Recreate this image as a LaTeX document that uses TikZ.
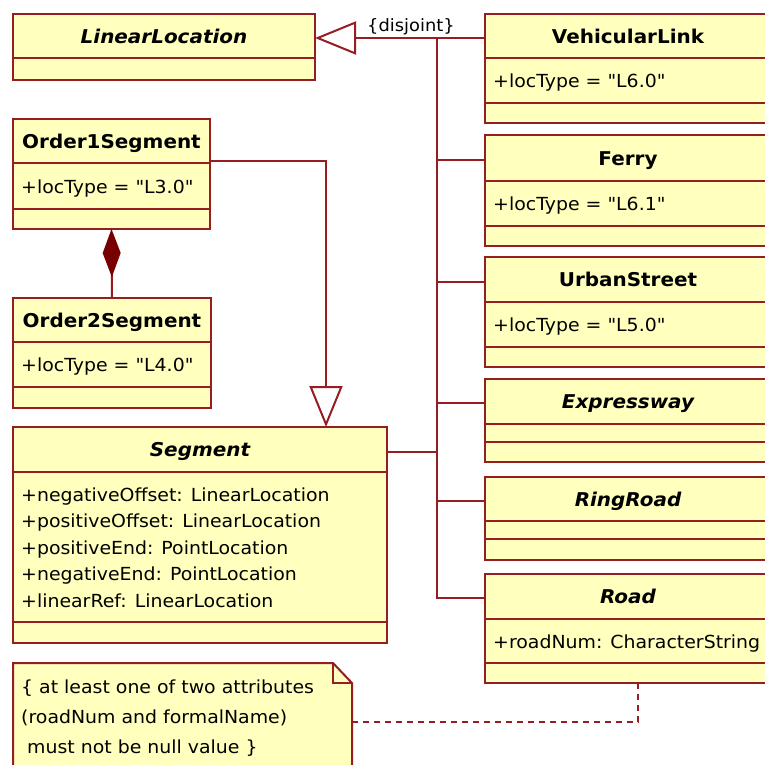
\documentclass[tikz,border=0pt]{standalone}
\usepackage{fontspec}
\setmainfont{DejaVu Sans}[FakeStretch=1.05, Ligatures=TeXOff]
\usetikzlibrary{arrows.meta}
\definecolor{umlline}{RGB}{150,30,35}
\definecolor{umlfill}{RGB}{255,255,190}
\definecolor{umldark}{RGB}{120,0,0}
\tikzset{
  cls/.style={draw=umlline, fill=umlfill, line width=2pt, inner sep=0pt, outer sep=0pt, rectangle},
  notebox/.style={draw=umlline, fill=umlfill, line width=2pt},
  divider/.style={draw=umlline, line width=2pt},
  conn/.style={draw=umlline, line width=2pt},
  gen/.style={conn, -{Triangle[open, length=41pt, width=33pt, fill=white]}},
  comp/.style={conn, -{Diamond[length=48pt, width=18pt, fill=umldark, color=umldark]}},
  noteline/.style={conn, dash pattern=on 6pt off 5pt},
  txt/.style={text=black, inner sep=0pt, text height=14pt, text depth=0pt, font=\fontsize{18}{21}\selectfont},
  ttl/.style={txt, text height=14.5pt, font=\fontsize{19}{22}\selectfont\bfseries},
  attl/.style={txt, text height=14.5pt, font=\fontsize{19}{22}\selectfont\bfseries\itshape},
  attr/.style={txt, anchor=west},
}
\newcommand\umlcls[9]{%
  \node[cls, anchor=north west, minimum width={(#4-#2)*1pt}, minimum height={(#5-#3)*1pt}] (#1) at (#2,#3) {};
  \draw[divider] (#2,#6) -- (#4,#6);
  \draw[divider] (#2,#7) -- (#4,#7);
  \node[#8] (#1-title) at ({(#2+#4)/2},{(#3+#6)/2}) {#9};
}
\begin{document}
\begin{tikzpicture}[x=1pt,y=-1pt]
\useasboundingbox (0,0) rectangle (765,764);
\clip (0,0) rectangle (765,764);
\fill[white] (0,0) rectangle (765,764);

% classes
\umlcls{ll}{13}{14}{315}{80}{58}{58}{attl}{LinearLocation}
\umlcls{vl}{485}{14}{771}{123}{58}{103}{ttl}{VehicularLink}
\node[attr] (vl-a1) at (493,80.5) {+locType = "L6.0"};
\umlcls{ferry}{485}{135}{771}{246}{181}{226}{ttl}{Ferry}
\node[attr] (ferry-a1) at (493,203.5) {+locType = "L6.1"};
\umlcls{urban}{485}{257}{771}{367}{302}{347}{ttl}{UrbanStreet}
\node[attr] (urban-a1) at (493,324.5) {+locType = "L5.0"};
\umlcls{expr}{485}{379}{771}{462}{424}{442}{attl}{Expressway}
\umlcls{ring}{485}{477}{771}{560}{521}{539}{attl}{RingRoad}
\umlcls{road}{485}{574}{771}{683}{619}{663}{attl}{Road}
\node[attr] (road-a1) at (493,641) {+roadNum: CharacterString};

\umlcls{o1}{13}{119}{210}{229}{163}{209}{ttl}{Order1Segment}
\node[attr] (o1-a1) at (21,186) {+locType = "L3.0"};
\umlcls{o2}{13}{298}{211}{408}{342}{387}{ttl}{Order2Segment}
\node[attr] (o2-a1) at (21,364.5) {+locType = "L4.0"};
\umlcls{seg}{13}{427}{387}{643}{472}{622}{attl}{Segment}
\node[attr] (seg-a1) at (21,494) {+negativeOffset: LinearLocation};
\node[attr] (seg-a2) at (21,520.5) {+positiveOffset: LinearLocation};
\node[attr] (seg-a3) at (21,547) {+positiveEnd: PointLocation};
\node[attr] (seg-a4) at (21,573.5) {+negativeEnd: PointLocation};
\node[attr] (seg-a5) at (21,600) {+linearRef: LinearLocation};

% note
\node[inner sep=0pt, outer sep=0pt, anchor=north west, minimum width=339pt, minimum height=117pt] (note) at (13,663) {};
\draw[notebox] (note.north west) -- ([xshift=-19pt]note.north east) -- ([yshift=-20pt]note.north east) -- (note.south east) -- (note.south west) -- cycle;
\draw[divider] ([xshift=-19pt]note.north east) |- ([yshift=-20pt]note.north east);
\node[attr] (note-l1) at (21,686) {\{ at least one of two attributes};
\node[attr] (note-l2) at (21,716) {(roadNum and formalName)};
\node[attr] (note-l3) at (21,746) {\ must not be null value \}};

% attachment points
\coordinate (vlA) at ([yshift=-24pt]vl.north west);
\coordinate (llA) at ([yshift=-24pt]ll.north east);
\coordinate (tj) at (437,38);
\coordinate (ferryA) at ([yshift=-25pt]ferry.north west);
\coordinate (urbanA) at ([yshift=-25pt]urban.north west);
\coordinate (exprA) at ([yshift=-24pt]expr.north west);
\coordinate (ringA) at ([yshift=-24pt]ring.north west);
\coordinate (roadA) at ([yshift=-24pt]road.north west);
\coordinate (segA) at ([yshift=-25pt]seg.north east);
\coordinate (o1A) at ([yshift=-42pt]o1.north east);
\coordinate (segT) at ([xshift=313pt]seg.north west);
\coordinate (roadB) at ([xshift=153pt]road.south west);

% connectors
\draw[conn] (tj) |- (roadA);
\draw[conn] (ferryA) -- (tj |- ferryA);
\draw[conn] (urbanA) -- (tj |- urbanA);
\draw[conn] (exprA) -- (tj |- exprA);
\draw[conn] (ringA) -- (tj |- ringA);
\draw[conn] (segA) -- (tj |- segA);
\draw[gen] (vlA) -- (llA);
\draw[gen] (o1A) -| (segT);
\draw[comp] (o2.north) -- (o1.south);
\draw[noteline] (roadB) |- (note.east);

\node[attr, font=\fontsize{17}{20}\selectfont] (disj) at (367,24) {\{disjoint\}};
\end{tikzpicture}
\end{document}
